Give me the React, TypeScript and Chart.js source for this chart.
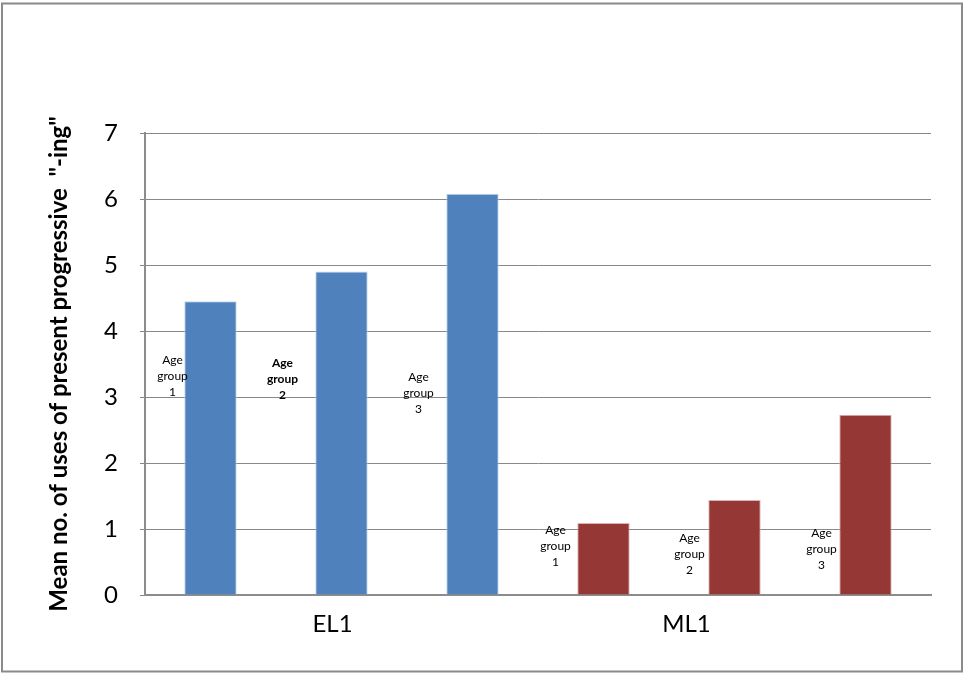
import React, { useEffect, useRef } from "react";
import { Chart, registerables } from "chart.js";

Chart.register(...registerables);

// Speaker groups along the x axis
const groups = ["EL1", "ML1"];
// One bar per age group within each speaker group
const barLabels = [
  "EL1 Age group 1",
  "EL1 Age group 2",
  "EL1 Age group 3",
  "ML1 Age group 1",
  "ML1 Age group 2",
  "ML1 Age group 3",
];
const ageGroupNumbers = ["1", "2", "3", "1", "2", "3"];
// Mean number of present progressive "-ing" uses
const meanUses = [4.45, 4.9, 6.08, 1.09, 1.44, 2.73];
const yTicks = [0, 1, 2, 3, 4, 5, 6, 7];

const BLUE = "#4F81BD";
const RED = "#953735";
const barColors = barLabels.map((l) => (l.startsWith("EL1") ? BLUE : RED));
const barEdges = barLabels.map((l) =>
  l.startsWith("EL1") ? "rgba(190,210,235,0.9)" : "rgba(220,170,170,0.9)"
);

// Placement of the "Age group" captions next to each bar
const captionShiftPx = [38, 59, 54, 48, 45, 44];
const captionLevel = [3.32, 3.27, 3.06, 0.74, 0.62, 0.7];
const captionBold = [false, true, false, false, false, false];
// Group name placement on the x axis
const groupSlot = [1, 4];
const groupShiftPx = [-9, -48];

const FONT = "Lato, 'Open Sans', sans-serif";

const frame = {
  id: "frame",
  beforeDraw(chart: any) {
    const { ctx } = chart;
    ctx.save();
    ctx.fillStyle = "#ffffff";
    ctx.fillRect(0, 0, chart.width, chart.height);
    ctx.strokeStyle = "#8a8a8a";
    ctx.lineWidth = 2;
    ctx.strokeRect(2, 3.5, 960, 668);
    ctx.restore();
  },
};

const captions = {
  id: "captions",
  afterDatasetsDraw(chart: any) {
    const { ctx } = chart;
    const xs = chart.scales.x;
    const ys = chart.scales.y;
    ctx.save();
    ctx.fillStyle = "#000";
    ctx.textAlign = "center";
    ctx.textBaseline = "middle";
    barLabels.forEach((_, i) => {
      const cx = xs.getPixelForValue(i) - captionShiftPx[i];
      const cy = ys.getPixelForValue(captionLevel[i]);
      ctx.font = `${captionBold[i] ? "bold " : ""}12px ${FONT}`;
      const lines = ["Age", "group", ageGroupNumbers[i]];
      lines.forEach((t, k) => ctx.fillText(t, cx, cy + (k - 1) * 16));
    });
    ctx.font = `24px ${FONT}`;
    groups.forEach((g, i) => {
      const gx = xs.getPixelForValue(groupSlot[i]) + groupShiftPx[i];
      ctx.fillText(g, gx, 624);
    });
    ctx.restore();
  },
};

export default function App() {
  const ref = useRef<HTMLCanvasElement | null>(null);

  useEffect(() => {
    if (!ref.current) return;
    const chart = new Chart(ref.current, {
      type: "bar",
      data: {
        labels: barLabels,
        datasets: [
          {
            data: meanUses,
            backgroundColor: barColors,
            borderColor: barEdges,
            borderWidth: 1,
            categoryPercentage: 1,
            barPercentage: 0.4,
          },
        ],
      },
      options: {
        responsive: false,
        animation: false,
        layout: { padding: { left: 0, top: 133, right: 32, bottom: 0 } },
        plugins: {
          legend: { display: false },
          tooltip: { enabled: false },
        },
        scales: {
          x: {
            type: "category",
            offset: true,
            grid: { display: false },
            border: { display: true, color: "#8c8c8c", width: 2 },
            ticks: { display: false },
            afterFit: (s: any) => {
              s.height = 78;
            },
          },
          y: {
            min: 0,
            max: 7,
            afterBuildTicks: (s: any) => {
              s.ticks = yTicks.map((v) => ({ value: v }));
            },
            grid: {
              color: "#888888",
              lineWidth: 1,
              tickLength: 5,
              drawTicks: true,
            },
            border: { display: true, color: "#8c8c8c", width: 2 },
            ticks: {
              color: "#000",
              padding: 22,
              font: { family: FONT, size: 24 },
            },
            title: {
              display: true,
              text: 'Mean no. of uses of present progressive  "-ing"',
              color: "#000",
              font: { family: FONT, size: 24, weight: "bold" },
              padding: { top: 45, bottom: 0 },
            },
            afterFit: (s: any) => {
              s.width = 145;
            },
          },
        },
      },
      plugins: [frame, captions],
    });
    return () => chart.destroy();
  }, []);

  return (
    <div style={{ position: "absolute", left: 0, top: 0, width: 963, height: 673 }}>
      <canvas ref={ref} width={963} height={673} />
    </div>
  );
}
